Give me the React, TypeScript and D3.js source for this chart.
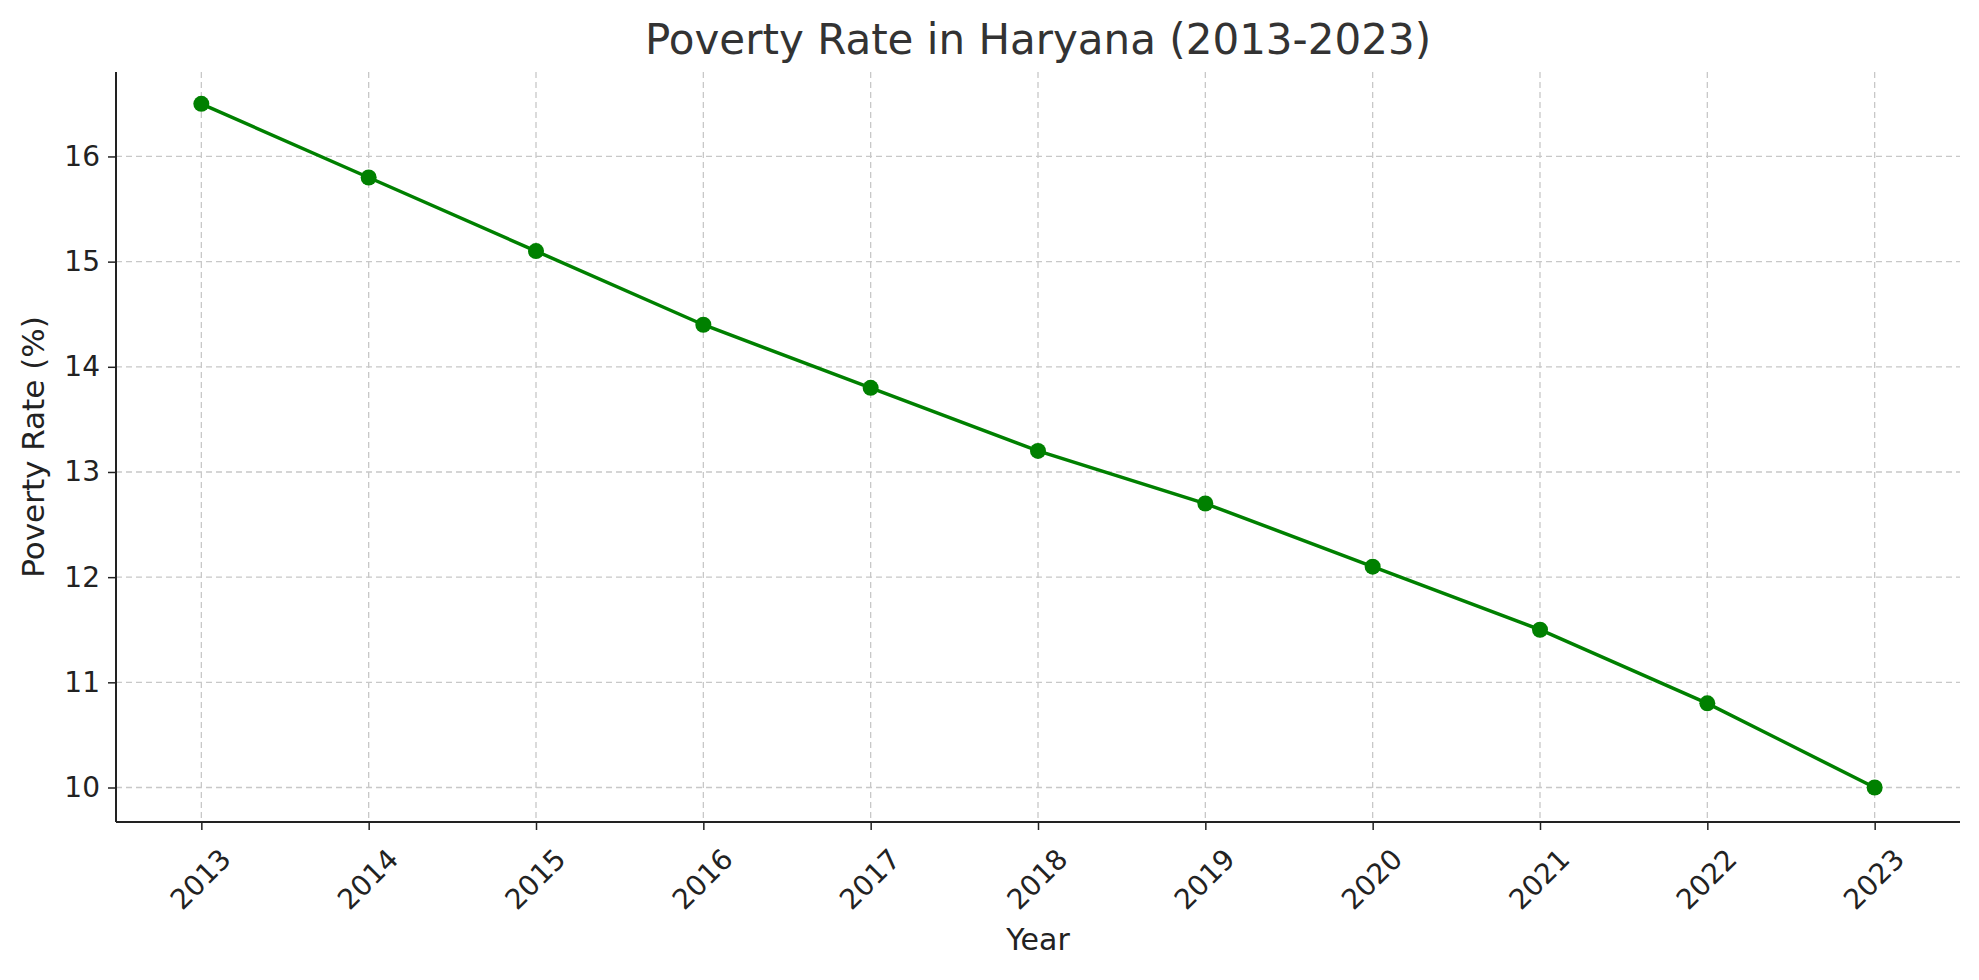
import * as React from 'react';
import { scaleLinear, select, line, axisLeft, axisBottom } from 'd3';

const years = [2013, 2014, 2015, 2016, 2017, 2018, 2019, 2020, 2021, 2022, 2023];
const rates = [16.5, 15.8, 15.1, 14.4, 13.8, 13.2, 12.7, 12.1, 11.5, 10.8, 10.0];
const yTicks = [10, 11, 12, 13, 14, 15, 16];

const W = 1979;
const H = 980;
const margin = { top: 72, right: 19, bottom: 158, left: 116 };

export default function App() {
    const ref = React.useRef<SVGSVGElement>(null);

    React.useEffect(() => {
        const svg = select(ref.current);
        svg.selectAll('*').remove();
        const width = W - margin.left - margin.right;
        const height = H - margin.top - margin.bottom;
        const x = scaleLinear().domain([2012.49, 2023.51]).range([0, width]);
        const y = scaleLinear().domain([9.672, 16.803]).range([height, 0]);
        const font = 'DejaVu Sans, sans-serif';

        const g = svg.append('g').attr('transform', `translate(${margin.left},${margin.top})`);

        // grid
        g.selectAll('.vg').data(years).enter().append('line')
            .attr('x1', (d) => x(d)).attr('x2', (d) => x(d)).attr('y1', 0).attr('y2', height)
            .attr('stroke', '#c8c8c8').attr('stroke-dasharray', '6,4').attr('stroke-width', 1.3);
        g.selectAll('.hg').data(yTicks).enter().append('line')
            .attr('x1', 0).attr('x2', width).attr('y1', (d) => y(d)).attr('y2', (d) => y(d))
            .attr('stroke', '#c8c8c8').attr('stroke-dasharray', '6,4').attr('stroke-width', 1.3);

        const xa = g.append('g').attr('transform', `translate(0,${height})`)
            .call(axisBottom(x).tickValues(years).tickFormat((d) => String(d)).tickSize(8).tickPadding(6));
        xa.selectAll('text')
            .attr('font-size', 28).attr('font-family', font).attr('fill', '#222')
            .attr('text-anchor', 'end').attr('dy', '0.35em')
            .attr('transform', 'translate(14,22) rotate(-45)');
        const ya = g.append('g')
            .call(axisLeft(y).tickValues(yTicks).tickSize(8).tickPadding(8));
        ya.selectAll('text').attr('font-size', 28).attr('font-family', font).attr('fill', '#222');
        [xa, ya].forEach((a) => {
            a.select('.domain').attr('stroke', '#222').attr('stroke-width', 2);
            a.selectAll('.tick line').attr('stroke', '#222').attr('stroke-width', 1.5);
        });
        xa.select('.domain').attr('d', `M0,0H${width}`);
        ya.select('.domain').attr('d', `M0,0V${height}`);

        const pts = years.map((yr, i) => [yr, rates[i]] as [number, number]);
        g.append('path').datum(pts)
            .attr('fill', 'none').attr('stroke', 'green').attr('stroke-width', 3.5)
            .attr('d', line<[number, number]>().x((d) => x(d[0])).y((d) => y(d[1])));
        g.selectAll('.pt').data(pts).enter().append('circle')
            .attr('cx', (d) => x(d[0])).attr('cy', (d) => y(d[1])).attr('r', 8).attr('fill', 'green');

        svg.append('text').attr('x', margin.left + width / 2).attr('y', 54)
            .attr('text-anchor', 'middle').attr('font-size', 42).attr('font-family', font).attr('fill', '#333')
            .text('Poverty Rate in Haryana (2013-2023)');
        svg.append('text').attr('x', margin.left + width / 2).attr('y', 950)
            .attr('text-anchor', 'middle').attr('font-size', 30).attr('font-family', font).attr('fill', '#222')
            .text('Year');
        svg.append('text').attr('transform', `translate(44,${margin.top + height / 2}) rotate(-90)`)
            .attr('text-anchor', 'middle').attr('font-size', 31).attr('font-family', font).attr('fill', '#222')
            .text('Poverty Rate (%)');
    }, []);

    return (
        <svg ref={ref} width={W} height={H} style={{ position: 'absolute', left: 0, top: 0, background: '#fff' }} />
    );
}
